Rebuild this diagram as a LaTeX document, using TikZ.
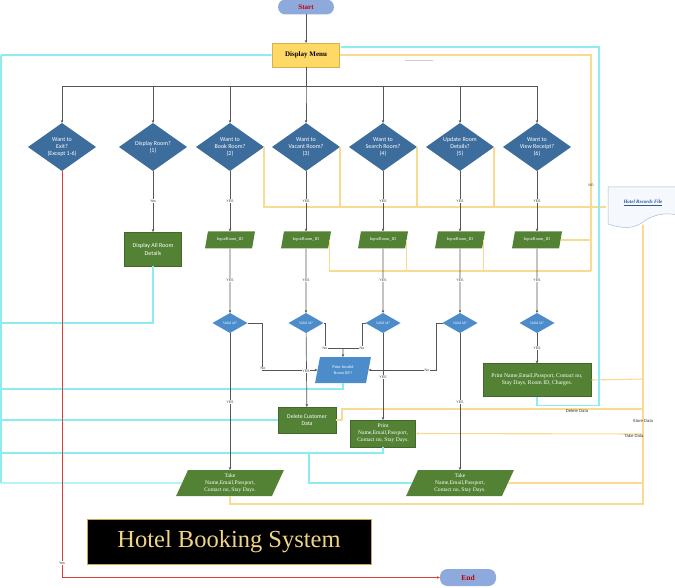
\documentclass[tikz,border=0pt]{standalone}
\usepackage{fontspec}
\setmainfont{Liberation Serif}
\newfontfamily\carl{Carlito}
\newfontfamily\lsans{Liberation Sans}
\usetikzlibrary{shapes.geometric,arrows.meta}
\definecolor{dblue}{HTML}{3D6D9C}
\definecolor{lblue}{HTML}{4C8CCB}
\definecolor{gbox}{HTML}{548235}
\definecolor{gline}{HTML}{555555}
\definecolor{cyanl}{HTML}{8DECF1}
\definecolor{yell}{HTML}{F8DB90}
\definecolor{menuf}{HTML}{FFD966}
\definecolor{menud}{HTML}{D6B24C}
\definecolor{term}{HTML}{8EA9DB}
\definecolor{termt}{HTML}{C00000}
\definecolor{gold}{HTML}{F0D384}
\definecolor{titleb}{HTML}{C9A94C}
\definecolor{redl}{HTML}{E03C3C}
\definecolor{fileb}{HTML}{A9BAD3}
\definecolor{filef}{HTML}{F5F8FD}
\definecolor{filet}{HTML}{2F5597}
\begin{document}
\begin{tikzpicture}[x=1pt,y=-1pt,
  every node/.style={inner sep=0pt, outer sep=0pt},
  arr/.style={-{Stealth[length=3pt,width=2.6pt]}},
  gl/.style={draw=gline, line width=0.7pt},
  cl/.style={draw=cyanl, line width=1.1pt},
  yl/.style={draw=yell, line width=1.1pt},
  bigd/.style={diamond, fill=dblue, minimum width=68pt, minimum height=48pt},
  dt/.style={text=white, align=center, font=\carl\fontsize{6}{7}\selectfont},
  smalld/.style={diamond, fill=lblue, minimum width=35pt, minimum height=20pt,
    text=white, font=\itshape\fontsize{3.8}{4}\selectfont},
  inpar/.style={trapezium, trapezium left angle=65, trapezium right angle=115,
    trapezium stretches=true, fill=gbox, minimum width=50pt, minimum height=17pt,
    text=white, font=\fontsize{4.3}{5}\selectfont},
  takepar/.style={trapezium, trapezium left angle=69, trapezium right angle=111,
    trapezium stretches=true, fill=gbox, minimum width=108pt, minimum height=26pt,
    text=white, align=center, font=\fontsize{5.6}{7}\selectfont},
  gbx/.style={rectangle, fill=gbox, draw=gbox!80!black, line width=0.3pt,
    text=white, align=center},
  lbl/.style={font=\lsans\fontsize{3.6}{4}\selectfont, text=black!75, fill=white, inner sep=0.4pt},
  dlbl/.style={font=\lsans\fontsize{4.2}{5}\selectfont, text=black!80},
  termn/.style={rectangle, rounded corners=7.5pt, fill=term, minimum width=56pt,
    text=termt, font=\bfseries\fontsize{7}{8}\selectfont},
]
\useasboundingbox (0,0) rectangle (675,588);

% ---------- nodes ----------
\node[termn, minimum height=15pt] (start) at (306,7) {Start};
\node[rectangle, fill=menuf, draw=menud, line width=0.5pt, minimum width=67pt,
  minimum height=24pt, font=\bfseries\fontsize{7}{8}\selectfont] (menu) at (306,55) {Display Menu};
\coordinate (bus) at (306,86);

\node[bigd, label={[dt]center:{Want to\\Exit?\\(Except 1-6)}}] (d1) at (62,147) {};
\node[bigd, label={[dt]center:{Display Room?\\(1)}}] (d2) at (153,147) {};
\node[bigd, label={[dt]center:{Want to\\Book Room?\\(2)}}] (d3) at (230,147) {};
\node[bigd, label={[dt]center:{Want to\\Vacant Room?\\(3)}}] (d4) at (306,147) {};
\node[bigd, label={[dt]center:{Want to\\Search Room?\\(4)}}] (d5) at (383,147) {};
\node[bigd, label={[dt]center:{Update Room\\Details?\\(5)}}] (d6) at (460,147) {};
\node[bigd, label={[dt]center:{Want to\\View Receipt?\\(6)}}] (d7) at (537,147) {};

\node[gbx, minimum width=57pt, minimum height=34pt, font=\carl\fontsize{6}{8}\selectfont]
  (all) at (153,249) {Display All Room\\Details};

\node[inpar] (p3) at (230,240) {InputRoom\_ID};
\node[inpar] (p4) at (306,240) {InputRoom\_ID};
\node[inpar] (p5) at (383,240) {InputRoom\_ID};
\node[inpar] (p6) at (460,240) {InputRoom\_ID};
\node[inpar] (p7) at (537,240) {InputRoom\_ID};

\node[smalld] (v3) at (230,323) {Valid id?};
\node[smalld] (v4) at (306,323) {Valid id?};
\node[smalld] (v5) at (383,323) {Valid id?};
\node[smalld] (v6) at (460,323) {Valid id?};
\node[smalld] (v7) at (537,323) {Valid id?};

\node[trapezium, trapezium left angle=75, trapezium right angle=105, trapezium stretches=true,
  fill=lblue, minimum width=56pt, minimum height=26pt, text=white, align=center,
  font=\fontsize{4.2}{5.5}\selectfont] (inv) at (343,370) {Print Invalid\\Room ID!!};

\node[gbx, minimum width=58pt, minimum height=26pt, font=\carl\fontsize{5.8}{7}\selectfont]
  (del) at (307,420) {Delete Customer\\Data};
\node[gbx, minimum width=65pt, minimum height=27pt, font=\fontsize{5.6}{7}\selectfont]
  (prt) at (383,433.5) {Print\\Name,Email,Passport,\\Contact no, Stay Days.};
\node[gbx, minimum width=108pt, minimum height=33pt, font=\fontsize{5.7}{7}\selectfont]
  (rcpt) at (537,380) {Print Name,Email,Passport, Contact no,\\Stay Days, Room ID, Charges.};

\node[takepar] (take1) at (230,483) {Take\\Name,Email,Passport,\\Contact no, Stay Days.};
\node[takepar] (take2) at (460,483) {Take\\Name,Email,Passport,\\Contact no, Stay Days.};

% file document shape
\draw[draw=fileb, fill=filef, line width=0.5pt] (608,187) -- (677,187) -- (677,215)
  .. controls (665,212) and (652,215) .. (643,222)
  .. controls (632,230) and (620,228) .. (608,224) -- cycle;
\node[text=filet, font=\bfseries\itshape\fontsize{5}{6}\selectfont] (file) at (643,203)
  {\underline{Hotel Records File}};
\coordinate (fin) at (607,207);
\coordinate (fbot) at (643,224);

\node[rectangle, fill=black, draw=titleb, line width=0.6pt, minimum width=284pt,
  minimum height=45pt, text=gold, font=\fontsize{24.5}{28}\selectfont] (title) at (229,541.5)
  {Hotel Booking System};
\node[termn, minimum height=17pt, font=\bfseries\fontsize{7.5}{8}\selectfont] (end) at (468,577.5) {End};

\draw[draw=black!20, line width=1pt] (405,61) -- (433,61);

% ---------- yellow connectors ----------
\draw[yl,arr] (d3.east) |- (fin);
\draw[yl] (d4.east) -- (d4.east |- fin);
\draw[yl] (d5.east) -- (d5.east |- fin);
\draw[yl] (d6.east) -- (d6.east |- fin);
\coordinate (y271) at (591,271);
\draw[yl] (p4.east) -- (p4.east |- y271) -- (y271);
\draw[yl] (p5.east) -- (p5.east |- y271);
\draw[yl] (p6.east) -- (p6.east |- y271);
\draw[yl] (p7.east) -- (p7.east -| y271);
\draw[yl] (y271) |- (menu.east);
\node[lbl, fill=none] (nolbl) at (591,185) {NO};

\draw[yl,arr] (take1.south) -- ++(0,8) -| (fbot);
\draw[yl] (take2.east) -- (take2.east -| fbot);
\coordinate (yr379) at (643,379);
\draw[yl,arr] (yr379) -- (rcpt.east);
\draw[yl] (del.east) -- ++(6,0) |- (643,409);
\coordinate (yr434) at (643,434);
\draw[yl,arr] (yr434) -- (prt.east);
\node[dlbl] (ldel) at (577,410.5) {Delete Data};
\node[dlbl] (lstore) at (643,421) {Store Data};
\node[dlbl] (ltake) at (634,435.5) {Take Data};

% ---------- cyan connectors ----------
\coordinate (cL) at (1,55);
\coordinate (cB) at (1,483);
\draw[cl,arr] (cL) -- (menu.west);
\draw[cl] (cL) -- (cB);
\draw[cl] (all.south) |- (1,323);
\draw[cl] (inv.south) |- (1,389);
\draw[cl] (del.west) -- (1,420);
\draw[cl] (prt.south) |- (1,453);
\draw[cl] (take1.west) -- (cB);
\draw[cl] (take2.west) -| (309,453);
\coordinate (m47) at (340,47);
\draw[cl,arr] (rcpt.south) -- ++(0,9) -| (599,47) -- (m47);

% ---------- gray connectors ----------
\draw[gl,arr] (start) -- (menu);
\foreach \d in {d1,d2,d3,d4,d5,d6,d7} {\draw[gl,arr] (menu.south) -- (bus) -| (\d.north);}
\draw[gl,arr] (d2) -- (all);
\foreach \i in {3,4,5,6,7} {\draw[gl,arr] (d\i) -- (p\i); \draw[gl,arr] (p\i) -- (v\i);}
\draw[gl,arr] (v3) -- (take1);
\draw[gl,arr] (v4) -- (del);
\draw[gl,arr] (v5) -- (prt);
\draw[gl,arr] (v6) -- (take2);
\draw[gl,arr] (v7) -- (rcpt);
\coordinate (n3) at (262,323);
\draw[gl,arr] (v3.east) -- (n3) |- (inv.west);
\coordinate (mrg) at (343,348);
\draw[gl] (v4.east) -- (325,323) |- (mrg);
\draw[gl] (v5.west) -- (362,323) |- (mrg);
\draw[gl,arr] (mrg) -- (inv.north);
\coordinate (n6) at (436,323);
\draw[gl,arr] (v6.west) -- (n6) |- (inv.east);

% red exit
\draw[draw=redl, line width=0.9pt, arr] (d1.south) |- (end.west);
\node[lbl] (lyes1) at (62,563) {Yes};

% line labels
\node[lbl] (ly2) at (153,201) {Yes};
\foreach \x/\n in {230/a,306/b,383/c,460/d,537/e} {
  \node[lbl] (ya\n) at (\x,201) {YES};
  \node[lbl] (yb\n) at (\x,280) {YES};
}
\node[lbl] (yc3) at (230,402) {YES};
\node[lbl] (yc4) at (306,371) {YES};
\node[lbl] (yc5) at (383,377) {YES};
\node[lbl] (yc6) at (460,402) {YES};
\node[lbl] (yc7) at (537,348) {YES};
\node[lbl] (no3) at (263,368.5) {No};
\node[lbl] (no4) at (325,348) {No};
\node[lbl] (no5) at (362,348) {No};
\node[lbl] (no6) at (427,370) {No};
\end{tikzpicture}
\end{document}
